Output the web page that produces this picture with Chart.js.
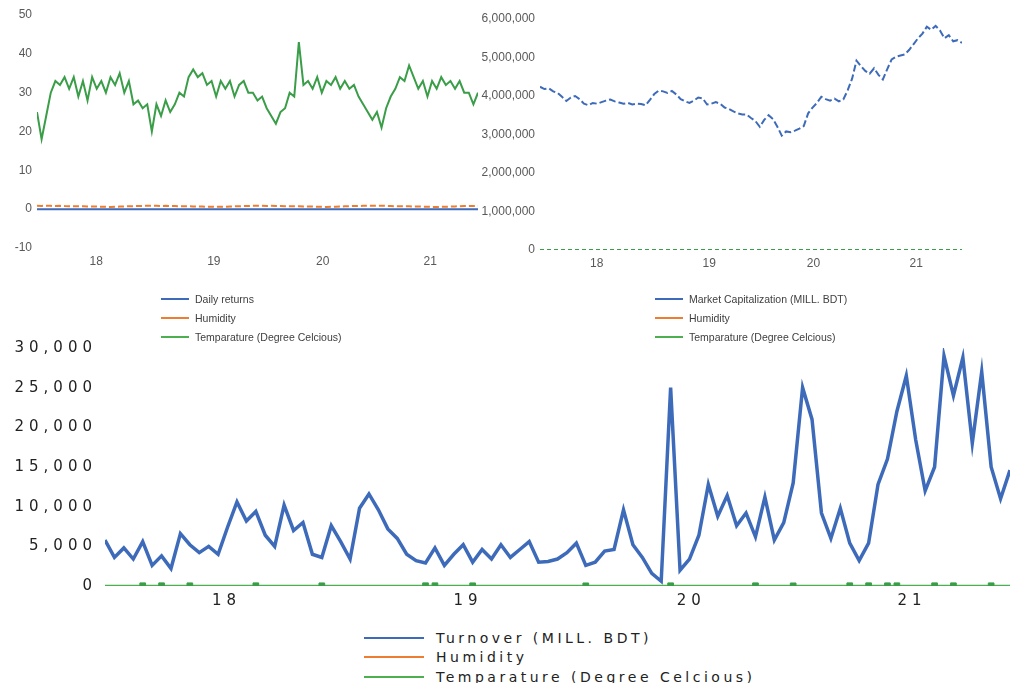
<!DOCTYPE html>
<html>
<head>
<meta charset="utf-8">
<script src="https://cdn.jsdelivr.net/npm/chart.js@4.4.1/dist/chart.umd.min.js"></script>
<style>
  body { margin: 0; background: #fff; width: 1010px; height: 683px; position: relative; overflow: hidden; }
  canvas { position: absolute; }
  .legend { position: absolute; color: #404040; }
  .legend div { display: flex; align-items: center; white-space: nowrap; }
  .legend .line { display: inline-block; height: 2px; }
  #legend1, #legend2 { font: 10.5px "Liberation Sans", sans-serif; }
  #legend1 div, #legend2 div { height: 19px; }
  #legend1 .line, #legend2 .line { width: 28px; margin-right: 6px; }
  #legend3 { font: 14px "DejaVu Sans", sans-serif; letter-spacing: 3.5px; color: #222; }
  #legend3 div { height: 19.5px; }
  #legend3 .line { width: 60px; margin-right: 12px; }
</style>
</head>
<body>
<canvas id="c1" width="482" height="275" style="left:0;top:0"></canvas>
<canvas id="c2" width="490" height="277" style="left:480px;top:0"></canvas>
<canvas id="c3" width="1010" height="285" style="left:0;top:330px"></canvas>
<div class="legend" id="legend1" style="left:161px;top:289px"></div>
<div class="legend" id="legend2" style="left:655px;top:289px"></div>
<div class="legend" id="legend3" style="left:364px;top:628px"></div>
<script>
// half-month steps from Jul 2017 to Jul 2021 (97 points)
const yearTickPos = [12.9, 38.5, 62.2, 85.6];
const yearLabels = ["18", "19", "20", "21"];

const temperature = [
  25, 18, 24, 30, 33, 32, 34, 31, 34, 29, 33, 28,
  34, 31, 33, 30, 34, 32, 35, 30, 33, 27, 28, 26,
  27, 20, 27, 24, 28, 25, 27, 30, 29, 34, 36, 34,
  35, 32, 33, 29, 33, 31, 33, 29, 32, 33, 30, 30,
  28, 29, 26, 24, 22, 25, 26, 30, 29, 43, 32, 33,
  31, 34, 30, 33, 32, 34, 31, 33, 31, 32, 29, 27,
  25, 23, 25, 21, 26, 29, 31, 34, 33, 37, 34, 31,
  33, 29, 33, 31, 34, 32, 33, 31, 33, 30, 30, 27,
  30
];

const humidity = [
  0.86, 0.84, 0.87, 0.85, 0.83, 0.86, 0.80, 0.78, 0.74, 0.76, 0.72, 0.70,
  0.68, 0.66, 0.62, 0.60, 0.58, 0.63, 0.66, 0.70, 0.74, 0.78, 0.80, 0.84,
  0.86, 0.85, 0.87, 0.84, 0.85, 0.82, 0.79, 0.76, 0.73, 0.74, 0.71, 0.69,
  0.67, 0.64, 0.61, 0.59, 0.60, 0.64, 0.68, 0.72, 0.75, 0.79, 0.82, 0.85,
  0.87, 0.86, 0.84, 0.86, 0.83, 0.81, 0.78, 0.75, 0.74, 0.72, 0.70, 0.68,
  0.66, 0.63, 0.60, 0.58, 0.61, 0.65, 0.69, 0.73, 0.77, 0.80, 0.83, 0.85,
  0.88, 0.86, 0.85, 0.87, 0.84, 0.80, 0.77, 0.75, 0.72, 0.73, 0.70, 0.67,
  0.65, 0.62, 0.59, 0.57, 0.60, 0.64, 0.67, 0.71, 0.76, 0.79, 0.82, 0.84,
  0.86
];

const dailyReturns = [
  0.002, -0.004, 0.003, -0.006, 0.001, 0.005, -0.002, -0.008, 0.004, 0.001, -0.003, 0.006,
  0.003, -0.001, -0.005, 0.002, 0.004, -0.007, 0.001, 0.003, -0.002, 0.005, -0.004, 0.000,
  0.006, 0.002, -0.003, 0.001, -0.006, 0.004, -0.001, 0.002, -0.005, 0.003, 0.001, -0.002,
  0.004, -0.006, 0.002, -0.003, 0.001, 0.005, -0.004, -0.002, 0.003, -0.007, 0.001, 0.002,
  -0.004, 0.003, -0.009, 0.006, 0.002, -0.011, 0.008, -0.003, 0.004, -0.006, 0.002, 0.005,
  -0.002, 0.009, 0.004, 0.006, -0.003, 0.002, -0.001, 0.003, -0.005, 0.004, 0.007, 0.010,
  -0.004, -0.003, 0.002, -0.006, 0.005, 0.006, 0.003, 0.001, 0.004, 0.002, 0.005, 0.006,
  0.003, -0.002, 0.004, -0.005, -0.003, 0.002, -0.004, 0.003, -0.002, 0.001, -0.003, 0.002,
  0.001
];

const marketCap = [
  4240000, 4180000, 4200000, 4120000, 4080000, 3980000, 3870000, 3960000, 4000000, 3920000, 3800000, 3760000,
  3820000, 3800000, 3840000, 3880000, 3910000, 3860000, 3830000, 3800000, 3820000, 3780000, 3800000, 3790000,
  3760000, 3900000, 4050000, 4140000, 4120000, 4080000, 4130000, 4040000, 3920000, 3860000, 3820000, 3880000,
  3960000, 3940000, 3780000, 3800000, 3840000, 3800000, 3700000, 3660000, 3600000, 3550000, 3520000, 3520000,
  3430000, 3350000, 3200000, 3380000, 3500000, 3400000, 3200000, 2970000, 3080000, 3060000, 3100000, 3150000,
  3220000, 3550000, 3700000, 3820000, 3980000, 3920000, 3880000, 3930000, 3860000, 3910000, 4150000, 4450000,
  4920000, 4780000, 4650000, 4580000, 4720000, 4550000, 4430000, 4700000, 4950000, 5020000, 5050000, 5080000,
  5200000, 5350000, 5500000, 5620000, 5800000, 5720000, 5820000, 5700000, 5500000, 5580000, 5420000, 5450000,
  5380000
];

const turnover = [
  5800, 3600, 4800, 3400, 5600, 2600, 3800, 2200, 6600, 5200, 4200, 5000,
  4000, 7400, 10600, 8200, 9400, 6400, 5000, 10200, 7000, 8000, 4000, 3600,
  7600, 5600, 3400, 9800, 11600, 9600, 7200, 6000, 4000, 3200, 2900, 4800,
  2600, 4000, 5200, 3000, 4600, 3400, 5200, 3600, 4600, 5600, 3000, 3100,
  3400, 4200, 5400, 2600, 3000, 4400, 4600, 9600, 5200, 3600, 1600, 600,
  25000, 2000, 3400, 6400, 12800, 8800, 11400, 7600, 9200, 6200, 11200, 5800,
  8000, 13000, 25000, 21000, 9200, 6000, 9800, 5400, 3200, 5400, 12800, 16000,
  22000, 26500, 18400, 12000, 15000, 29000, 24000, 28800, 18000, 27000, 15000, 11000,
  14600
];

const tempMarkerIdx = [4, 6, 9, 16, 23, 34, 35, 39, 51, 60, 69, 73, 79, 81, 83, 84, 88, 90, 94];

const BLUE = "#3d6bba";
const ORANGE = "#ed7d31";
const GREEN = "#3a9d48";
const LEGEND_GREEN = "#4caf50";

const pts = (arr) => arr.map((v, i) => ({ x: i, y: v }));

function yearAxis(font, color, height) {
  return {
    type: "linear",
    min: 0,
    max: 96,
    grid: { display: false, drawTicks: false },
    border: { display: false },
    afterBuildTicks: (s) => { s.ticks = yearTickPos.map((v) => ({ value: v })); },
    afterFit: (s) => { s.height = height; },
    ticks: {
      autoSkip: false,
      maxRotation: 0,
      padding: 6,
      font: font,
      color: color,
      callback: (v) => yearLabels[yearTickPos.indexOf(v)],
    },
  };
}

function valueAxis(min, max, step, width, font, color, padding) {
  return {
    min: min,
    max: max,
    grid: { display: false, drawTicks: false },
    border: { display: false },
    afterFit: (s) => { s.width = width; },
    ticks: {
      stepSize: step,
      padding: padding,
      font: font,
      color: color,
      callback: (v) => v.toLocaleString("en-US"),
    },
  };
}

const commonOpts = {
  responsive: false,
  animation: false,
  plugins: { legend: { display: false }, tooltip: { enabled: false } },
  elements: { point: { radius: 0 } },
};

const smallFont = { family: "Liberation Sans", size: 12 };
const grey = "#595959";

// top left: daily returns
new Chart(document.getElementById("c1"), {
  type: "line",
  data: {
    datasets: [
      { label: "Daily returns", data: pts(dailyReturns), borderColor: BLUE, borderWidth: 2, order: 0 },
      { label: "Humidity", data: pts(humidity), borderColor: ORANGE, borderWidth: 2, borderDash: [6, 3], order: 2 },
      { label: "Temparature (Degree Celcious)", data: pts(temperature), borderColor: GREEN, borderWidth: 2, order: 1 },
    ],
  },
  options: {
    ...commonOpts,
    layout: { padding: { top: 15, right: 4, left: 0, bottom: 0 } },
    scales: {
      x: yearAxis(smallFont, grey, 27),
      y: valueAxis(-10, 50, 10, 37, smallFont, grey, 5),
    },
  },
});

// top right: market capitalization
new Chart(document.getElementById("c2"), {
  type: "line",
  data: {
    datasets: [
      { label: "Market Capitalization (MILL. BDT)", data: pts(marketCap), borderColor: BLUE, borderWidth: 2, borderDash: [7, 3], order: 0 },
      { label: "Humidity", data: pts(humidity), borderColor: GREEN, borderWidth: 2, borderDash: [4, 3], order: 2 },
      { label: "Temparature (Degree Celcious)", data: pts(temperature), borderColor: GREEN, borderWidth: 2, borderDash: [4, 3], order: 1 },
    ],
  },
  options: {
    ...commonOpts,
    layout: { padding: { top: 19, right: 8, left: 0, bottom: 0 } },
    scales: {
      x: yearAxis(smallFont, grey, 27),
      y: valueAxis(0, 6000000, 1000000, 60, smallFont, grey, 5),
    },
  },
});

// bottom: turnover
const spacing = {
  id: "spacing",
  beforeDraw: (chart) => { chart.ctx.letterSpacing = "5px"; },
};
const bigFont = { family: "DejaVu Sans", size: 15 };
const dark = "#222";

new Chart(document.getElementById("c3"), {
  type: "line",
  data: {
    datasets: [
      { label: "Turnover (MILL. BDT)", data: pts(turnover), borderColor: BLUE, borderWidth: 3.5, order: 1 },
      { label: "Humidity", data: pts(humidity), borderColor: ORANGE, borderWidth: 2, order: 2 },
      {
        label: "Temparature (Degree Celcious)",
        data: pts(temperature),
        borderColor: LEGEND_GREEN,
        borderWidth: 2,
        order: 0,
        pointStyle: "rect",
        pointBackgroundColor: GREEN,
        pointBorderColor: GREEN,
        pointBorderWidth: 1,
        pointRadius: (ctx) => (tempMarkerIdx.includes(ctx.dataIndex) ? 4 : 0),
      },
    ],
  },
  options: {
    ...commonOpts,
    layout: { padding: { top: 18, right: 0, left: 0, bottom: 0 } },
    scales: {
      x: yearAxis(bigFont, dark, 29),
      y: valueAxis(0, 30000, 5000, 105, bigFont, dark, 8),
    },
  },
  plugins: [spacing],
});

function buildLegend(id, names) {
  const colors = [BLUE, ORANGE, LEGEND_GREEN];
  const box = document.getElementById(id);
  names.forEach((name, i) => {
    const row = document.createElement("div");
    row.innerHTML = `<span class="line" style="background:${colors[i]}"></span><span>${name}</span>`;
    box.appendChild(row);
  });
}
buildLegend("legend1", ["Daily returns", "Humidity", "Temparature (Degree Celcious)"]);
buildLegend("legend2", ["Market Capitalization (MILL. BDT)", "Humidity", "Temparature (Degree Celcious)"]);
buildLegend("legend3", ["Turnover (MILL. BDT)", "Humidity", "Temparature (Degree Celcious)"]);
</script>
</body>
</html>
